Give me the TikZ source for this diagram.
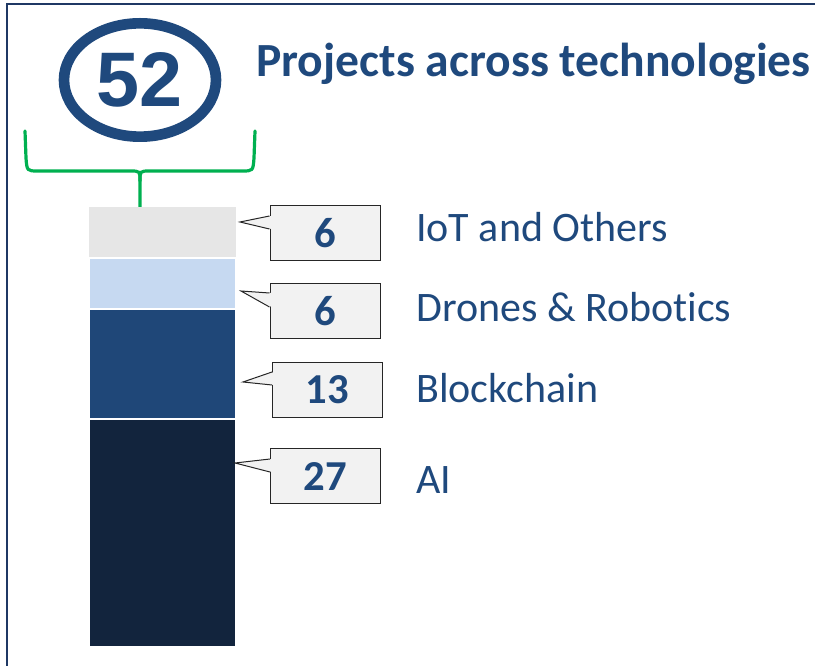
\documentclass[tikz,border=0pt]{standalone}
\usepackage{fontspec}
\setmainfont{Carlito}[Ligatures=NoCommon]
\newfontfamily\arialfont{Liberation Sans}
\usetikzlibrary{shapes.geometric,calc}

\definecolor{navytext}{HTML}{1F497D}
\definecolor{framenavy}{HTML}{1F3864}
\definecolor{iotgray}{HTML}{E6E6E6}
\definecolor{dronesblue}{HTML}{C6D9F1}
\definecolor{chainblue}{HTML}{1F4778}
\definecolor{aidark}{HTML}{12243D}
\definecolor{boxgray}{HTML}{F2F2F2}
\definecolor{bracegreen}{HTML}{00B050}

\tikzset{
	numbox/.style={draw=black!85, line width=0.75pt, fill=boxgray, minimum width=82.5pt, minimum height=41.25pt, inner sep=0pt, text=navytext, font=\fontsize{32}{36}\selectfont\bfseries},
	tech/.style={anchor=base west, inner sep=0pt, text=navytext, font=\fontsize{31.5}{36}\selectfont},
	ptr/.style={draw=black!85, line width=0.75pt},
	segment/.style={draw=white, line width=1.5pt},
	brace/.style={draw=bracegreen, line width=2.4pt, line cap=round}
}

\begin{document}
\begin{tikzpicture}[x=0.75pt, y=-0.75pt]
	\useasboundingbox (0,0) rectangle (815,666);
	\draw[framenavy, line width=2.2pt] (7,690) -- (7,4) -- (840,4);

	% total and title
	\draw (140,80) node[ellipse, draw=navytext, line width=8pt, minimum width=114pt, minimum height=85pt, inner sep=0pt, text=navytext, font=\arialfont\fontsize{58}{60}\selectfont\bfseries] (total) {52};
	\draw (256,77) node[anchor=base west, inner sep=0pt, text=navytext, font=\fontsize{35.7}{40}\selectfont\bfseries] (title) {Projects across technologies};

	% brace
	\draw[brace] (25,131) -- (26,158) .. controls (27,171) .. (38,171) -- (130,171) .. controls (140,171) .. (140,181) -- (140,207);
	\draw[brace] (255,131) -- (254,158) .. controls (253,171) .. (242,171) -- (150,171) .. controls (140,171) .. (140,181);

	% stacked bar
	\fill[iotgray] (89,207) rectangle (236,258);
	\filldraw[segment, fill=dronesblue] (89,258) rectangle (236,309);
	\filldraw[segment, fill=chainblue] (89,309) rectangle (236,419);
	\filldraw[segment, fill=aidark] (89,419) rectangle (236,647);

	\coordinate (t1) at (240,222);
	\coordinate (t2) at (241,291);
	\coordinate (t3) at (243,382);
	\coordinate (t4) at (235,463);

	% callouts
	\draw (325,233.5) node[numbox] (n1) {6};
	\draw (325,311.5) node[numbox] (n2) {6};
	\draw (327.5,390) node[numbox] (n3) {13};
	\draw (325.5,476.5) node[numbox] (n4) {27};

	\fill[boxgray] ($(n1.west |- 0,216)+(2,0)$) -- (t1) -- ($(n1.west |- 0,229)+(2,0)$) -- cycle;
	\draw[ptr] (n1.west |- 0,216) -- (t1) -- (n1.west |- 0,229);
	\fill[boxgray] ($(n2.west |- 0,293)+(2,0)$) -- (t2) -- ($(n2.west |- 0,307)+(2,0)$) -- cycle;
	\draw[ptr] (n2.west |- 0,293) -- (t2) -- (n2.west |- 0,307);
	\fill[boxgray] ($(n3.west |- 0,372)+(2,0)$) -- (t3) -- ($(n3.west |- 0,385)+(2,0)$) -- cycle;
	\draw[ptr] (n3.west |- 0,372) -- (t3) -- (n3.west |- 0,385);
	\fill[boxgray] ($(n4.west |- 0,459)+(2,0)$) -- (t4) -- ($(n4.west |- 0,472)+(2,0)$) -- cycle;
	\draw[ptr] (n4.west |- 0,459) -- (t4) -- (n4.west |- 0,472);

	% labels
	\draw (416,242) node[tech] (l1) {IoT and Others};
	\draw (416,322) node[tech] (l2) {Drones \& Robotics};
	\draw (416,403) node[tech] (l3) {Blockchain};
	\draw (416,494) node[tech] (l4) {AI};
\end{tikzpicture}
\end{document}
